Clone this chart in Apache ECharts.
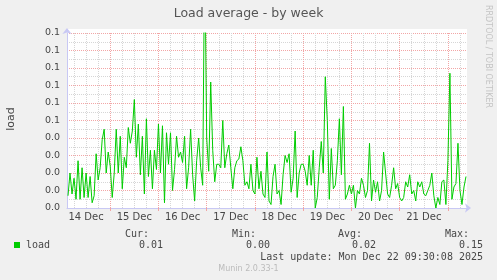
<!DOCTYPE html>
<html>
<head>
<meta charset="utf-8">
<script src="https://cdn.jsdelivr.net/npm/echarts@6/dist/echarts.min.js"></script>
<style>
html,body{margin:0;padding:0;background:#F0F0F0;}
#c{width:497px;height:280px;}
</style>
</head>
<body>
<div id="c"></div>
<script>
// ---- chart content ----
const chartTitle = 'Load average - by week';
const yAxisTitle = 'load';
const sideText = 'RRDTOOL / TOBI OETIKER';
const footerText = 'Munin 2.0.33-1';
const lastUpdateText = 'Last update: Mon Dec 22 09:30:08 2025';

// x axis: hours since Dec 14 00:00
const axisMinHour = 2.5;     // Dec 14 02:30
const axisMaxHour = 201.5;   // Dec 22 09:30
const dayLabels = ['14 Dec', '15 Dec', '16 Dec', '17 Dec', '18 Dec', '19 Dec', '20 Dec', '21 Dec'];
const dayLabelHours = [12, 36, 60, 84, 108, 132, 156, 180];
const firstSampleHour = 3;   // Dec 14 03:00
const sampleStepHours = 1;

// y axis
const yMin = 0;
const yMax = 0.1;
const yStep = 0.01;

// load values (hourly samples)
const loadValues = [
  0.007,0.020,0.008,0.017,0.005,0.027,0.005,0.023,0.006,0.020,
  0.006,0.018,0.003,0.007,0.031,0.016,0.023,0.039,0.045,0.020,
  0.032,0.024,0.006,0.020,0.045,0.020,0.041,0.011,0.029,0.023,
  0.046,0.037,0.044,0.062,0.029,0.048,0.019,0.041,0.008,0.051,
  0.018,0.033,0.011,0.033,0.022,0.048,0.020,0.047,0.003,
  0.043,0.025,0.043,0.010,0.022,0.041,0.029,0.032,0.026,0.041,
  0.011,0.023,0.045,0.019,0.004,0.027,0.040,0.023,0.013,0.150,
  0.040,0.021,0.072,0.033,0.015,0.025,0.025,0.023,0.050,0.023,
  0.031,0.036,0.023,0.011,0.023,0.027,0.028,0.035,0.027,0.013,
  0.015,0.011,0.025,0.010,0.008,0.029,0.011,0.021,
  0.008,0.006,0.032,0.004,0.002,0.018,0.025,0.008,0.010,0.002,
  0.019,0.030,0.026,0.031,0.009,0.017,0.044,0.006,0.020,0.025,
  0.025,0.021,0.013,0.030,0.013,0.033,0.000,0.006,0.023,0.038,
  0.020,0.075,0.050,0.005,0.034,0.011,0.013,0.027,0.051,0.019,
  0.058,0.005,0.008,0.013,0.008,0.013,0.000,0.010,0.008,0.017,
  0.013,
  0.006,0.010,0.037,0.004,0.016,0.009,0.015,0.004,0.010,0.032,
  0.020,0.008,0.006,0.013,0.023,0.011,0.014,0.006,0.004,0.006,
  0.015,0.012,0.019,0.008,0.010,0.004,0.015,0.012,0.015,0.008,
  0.007,0.010,0.013,0.020,0.007,0.000,0.006,0.002,0.015,0.016,
  0.002,0.027,0.077,0.005,0.012,0.014,0.037,0.010,0.002,0.012,
  0.018
];

// legend
const seriesName = 'load';
const statNames = ['Cur:', 'Min:', 'Avg:', 'Max:'];
const statValues = ['0.01', '0.00', '0.02', '0.15'];

// ---- build ----
const seriesData = loadValues.map((v, i) => [firstSampleHour + i * sampleStepHours, v]);

const majorGridHours = [];
const minorGridHours = [];
for (let h = 6; h < axisMaxHour; h += 6) {
  if (h % 24 === 0) majorGridHours.push(h); else minorGridHours.push(h);
}

const MAJOR = '#F2A6A6';
const MINOR = '#D6D6D6';
const AXIS = '#C8C8F4';
const SANS = 'DejaVu Sans';
const MONO = 'DejaVu Sans Mono';
const TXT = '#474747';

const markLines = []
  .concat(minorGridHours.map(h => ({ xAxis: h, lineStyle: { color: MINOR, type: [1, 1], width: 1 } })))
  .concat(majorGridHours.map(h => ({ xAxis: h, lineStyle: { color: MAJOR, type: [1, 1], width: 1 } })));

const statNameRight = [149, 256, 362, 469];
const statValueRight = [163, 270, 376, 483];

const graphics = [
  { type: 'rect', z: -10, shape: { x: 67, y: 29, width: 400, height: 179 }, style: { fill: '#FFFFFF' } },
  { type: 'text', x: 248.5, y: 13.5, style: { text: chartTitle, font: '12.5px "' + SANS + '"', fill: '#555555', align: 'center', verticalAlign: 'middle' } },
  { type: 'text', x: 11, y: 119, rotation: Math.PI / 2, style: { text: yAxisTitle, font: '11px "' + SANS + '"', fill: TXT, align: 'center', verticalAlign: 'middle' } },
  { type: 'text', x: 488.5, y: 56.5, rotation: -Math.PI / 2, style: { text: sideText, font: '8px "' + SANS + '"', fill: '#C4C4C4', align: 'center', verticalAlign: 'middle' } },
  { type: 'rect', shape: { x: 14, y: 242, width: 6, height: 6 }, style: { fill: '#00CC00' } },
  { type: 'text', x: 26, y: 245.5, style: { text: seriesName, font: '10px "' + MONO + '"', fill: TXT, align: 'left', verticalAlign: 'middle' } },
  { type: 'text', x: 483, y: 257.5, style: { text: lastUpdateText, font: '10px "' + MONO + '"', fill: TXT, align: 'right', verticalAlign: 'middle' } },
  { type: 'text', x: 248.5, y: 269, style: { text: footerText, font: '8px "' + SANS + '"', fill: '#BBBBBB', align: 'center', verticalAlign: 'middle' } }
];
statNames.forEach((s, k) => {
  graphics.push({ type: 'text', x: statNameRight[k], y: 234, style: { text: s, font: '10px "' + MONO + '"', fill: TXT, align: 'right', verticalAlign: 'middle' } });
  graphics.push({ type: 'text', x: statValueRight[k], y: 245.5, style: { text: statValues[k], font: '10px "' + MONO + '"', fill: TXT, align: 'right', verticalAlign: 'middle' } });
});

const chart = echarts.init(document.getElementById('c'), null, { renderer: 'canvas' });
chart.setOption({
  animation: false,
  backgroundColor: '#F0F0F0',
  grid: { left: 67, top: 33, width: 400, height: 175, show: false, containLabel: false },
  xAxis: {
    type: 'value', min: axisMinHour, max: axisMaxHour,
    axisLine: { show: true, lineStyle: { color: AXIS, width: 1 }, symbol: ['none', 'arrow'], symbolSize: [7, 6], symbolOffset: [0, 4] },
    axisTick: { show: true, customValues: majorGridHours, length: 3, lineStyle: { color: MAJOR } },
    axisLabel: {
      customValues: dayLabelHours,
      formatter: v => dayLabels[dayLabelHours.indexOf(v)] || '',
      fontFamily: SANS, fontSize: 10, color: TXT, margin: 4
    },
    splitLine: { show: false }
  },
  yAxis: {
    type: 'value', min: yMin, max: yMax, interval: yStep,
    axisLine: { show: true, onZero: false, lineStyle: { color: AXIS, width: 1 }, symbol: ['none', 'arrow'], symbolSize: [7, 6], symbolOffset: [0, 5] },
    axisTick: { show: false },
    axisLabel: { formatter: v => v.toFixed(1), fontFamily: SANS, fontSize: 9.5, color: TXT, margin: 7 },
    splitLine: { show: true, lineStyle: { color: MAJOR, type: [1, 1], width: 1 } },
    minorTick: { show: false, splitNumber: 2 },
    minorSplitLine: { show: true, lineStyle: { color: MINOR, type: [1, 1], width: 1 } }
  },
  series: [{
    name: seriesName,
    type: 'line',
    data: seriesData,
    showSymbol: false,
    symbol: 'none',
    z: 3,
    clip: true,
    lineStyle: { color: '#00CC00', width: 1 },
    itemStyle: { color: '#00CC00' },
    emphasis: { disabled: true },
    markLine: {
      z: 1,
      silent: true,
      symbol: ['none', 'none'],
      label: { show: false },
      emphasis: { disabled: true },
      data: markLines
    }
  }],
  graphic: graphics
});
</script>
</body>
</html>
